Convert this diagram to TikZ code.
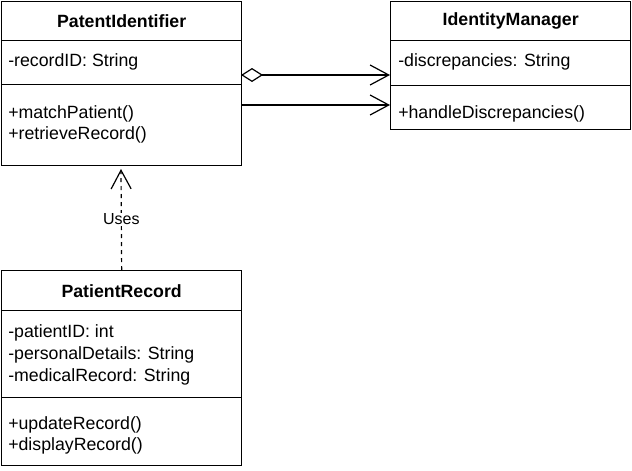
\documentclass[tikz,border=0pt]{standalone}
\usepackage{fontspec}
\setmainfont{Liberation Sans}
\usetikzlibrary{arrows.meta,positioning}
\tikzstyle{compartment} = [draw, line width=1pt, inner sep=0pt, anchor=north west, minimum width=180pt, font=\fontsize{13.3}{16}\selectfont\bfseries]
\tikzstyle{member} = [anchor=west, inner sep=0pt, align=left, font=\fontsize{13.3}{15.75}\selectfont]
\tikzstyle{arrow} = [line width=0.9pt, -{Straight Barb[length=14pt,width=15pt,line width=0.9pt]}]

\begin{document}
\begin{tikzpicture}[x=0.75pt, y=-0.75pt]
            \useasboundingbox (0,0) rectangle (632,471);
            % PatentIdentifier
            \node[compartment, minimum height=29.25pt] (pihead) at (1,1) {PatentIdentifier};
            \node[compartment, minimum height=33pt] (piattr) at (1,40) {};
            \node[compartment, minimum height=60.75pt] (pimeth) at (1,84) {};
            \node[member] (piattrtext) at (8,62) {-recordID: String};
            \node[member] (pimethtext) at (8,124.5) {+matchPatient()\\+retrieveRecord()};
            % IdentityManager
            \node[compartment, minimum height=29.25pt] (imhead) at (390,1) {IdentityManager};
            \node[compartment, minimum height=33.75pt] (imattr) at (390,40) {};
            \node[compartment, minimum height=33pt] (immeth) at (390,85) {};
            \node[member] (imattrtext) at (398,62) {-discrepancies: String};
            \node[member] (immethtext) at (398,114) {+handleDiscrepancies()};
            % PatientRecord
            \node[compartment, minimum height=30pt] (prhead) at (1,270) {PatientRecord};
            \node[compartment, minimum height=65.25pt] (prattr) at (1,310) {};
            \node[compartment, minimum height=51pt] (prmeth) at (1,397) {};
            \node[member, font=\fontsize{13.3}{16.5}\selectfont] (prattrtext) at (8,354.5) {-patientID: int\\-personalDetails: String\\-medicalRecord: String};
            \node[member] (prmethtext) at (8,435) {+updateRecord()\\+displayRecord()};
            % connectors
            \coordinate (aggstart) at (241,75);
            \coordinate (aggend) at (390,75);
            \coordinate (assocstart) at (241,105);
            \coordinate (assocend) at (390,105);
            \coordinate (usestip) at (121,169);
            \draw[arrow, {Diamond[open,length=16.5pt,width=10.5pt,line width=0.9pt]}-{Straight Barb[length=14pt,width=15pt,line width=0.9pt]}] (aggstart) -- (aggend);
            \draw[arrow] (assocstart) -- (assocend);
            \draw[arrow, dash pattern=on 3pt off 3pt] (prhead.north) -- (usestip)
                node[pos=0.5, fill=white, inner sep=1pt, font=\fontsize{12}{14}\selectfont] (useslabel) {Uses};
\end{tikzpicture}
\end{document}
